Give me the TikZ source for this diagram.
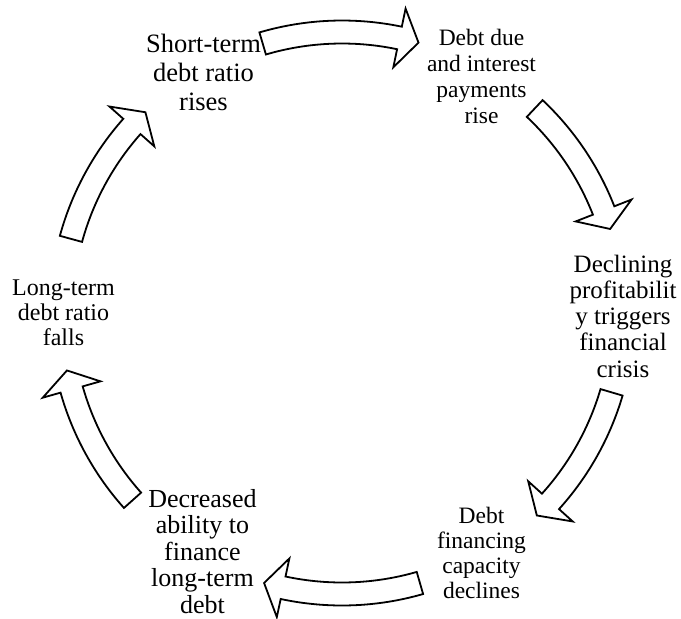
\documentclass[tikz,border=0pt]{standalone}
\usepackage{fontspec}
\setmainfont{Liberation Serif}
\begin{document}
\begin{tikzpicture}[x=1pt,y=-1pt,
  lbl/.style={inner sep=0pt, anchor=base},
  blockarrow/.style={draw=black, fill=white, line width=1.8pt, line join=miter}]
\useasboundingbox (0,0) rectangle (681,619);
% labels
\node[lbl, font=\fontsize{26.5}{29}\selectfont] (n1) at (203.5,52)
  {\begin{tabular}[t]{@{}c@{}}Short-term\\debt ratio\\rises\end{tabular}};
\node[lbl, font=\fontsize{23.5}{26}\selectfont] (n2) at (481.5,45.5)
  {\begin{tabular}[t]{@{}c@{}}Debt due\\and interest\\payments\\rise\end{tabular}};
\node[lbl, font=\fontsize{25}{26.3}\selectfont] (n3) at (623,272)
  {\begin{tabular}[t]{@{}c@{}}Declining\\profitabilit\\y triggers\\financial\\crisis\end{tabular}};
\node[lbl, font=\fontsize{23.5}{25}\selectfont] (n4) at (481.5,523)
  {\begin{tabular}[t]{@{}c@{}}Debt\\financing\\capacity\\declines\end{tabular}};
\node[lbl, font=\fontsize{26}{26.5}\selectfont] (n5) at (202.5,507)
  {\begin{tabular}[t]{@{}c@{}}Decreased\\ability to\\finance\\long-term\\debt\end{tabular}};
\node[lbl, font=\fontsize{24}{25}\selectfont] (n6) at (63.5,295.5)
  {\begin{tabular}[t]{@{}c@{}}Long-term\\debt ratio\\falls\end{tabular}};
% block arc arrows (math angles, y up inside scope)
\begin{scope}[shift={(342,313)}, yscale=-1]
\def\R{281}\def\W{11.5}\def\H{30}\def\D{4}
\foreach \a/\b [count=\i] in {106.4/74.2, 46.7/17.4, -16.4/-46.1, -73.9/-106.1, -138.2/-168.2, 164.7/134.4}{
  \pgfmathsetmacro{\c}{\b+\D}
  \draw[blockarrow] (\a:\R-\W) coordinate (t\i)
    arc[start angle=\a, end angle=\c, radius=\R-\W]
    -- (\c:\R-\H) -- (\b:\R) coordinate (h\i) -- (\c:\R+\H) -- (\c:\R+\W)
    arc[start angle=\c, end angle=\a, radius=\R+\W] -- cycle;
}
\end{scope}
\end{tikzpicture}
\end{document}
